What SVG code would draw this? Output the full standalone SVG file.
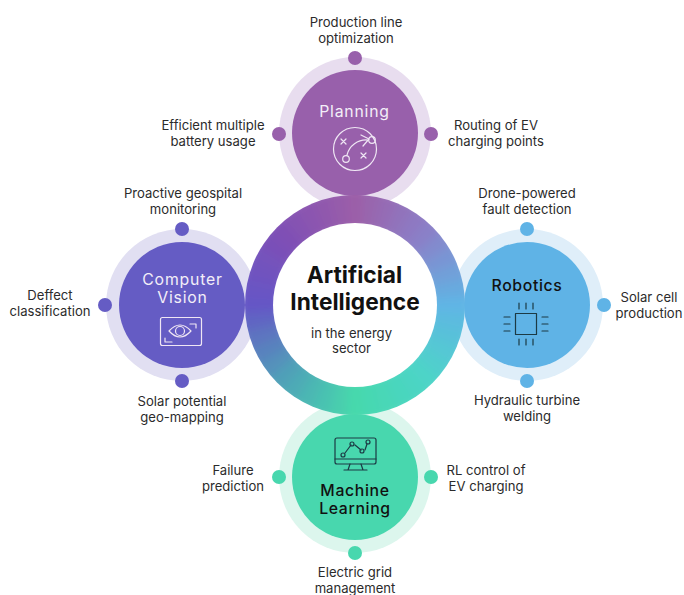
<svg xmlns="http://www.w3.org/2000/svg" width="684" height="595" viewBox="0 0 684 595">
<style>
text{font-family:Inter,"Noto Sans","Liberation Sans",sans-serif;text-anchor:middle}
.l{font-size:13.100px;fill:#2b2b2b}
.h{font-size:15.800px;font-weight:500;letter-spacing:.65px}
.w{fill:#f3eef8;font-weight:400;letter-spacing:.8px}.k{fill:#111}
.ic{fill:none;stroke-width:1.2;stroke-linecap:round;stroke-linejoin:round}
.iw{stroke:#efe6f4}.ik{stroke:#1c3a44}
.ring circle{r:96px;fill:none;stroke-width:44px;stroke-dasharray:15.8 600}
</style>
<defs>
<filter id="soft" x="-20%" y="-20%" width="140%" height="140%"><feGaussianBlur stdDeviation="5"/></filter>
<clipPath id="outer"><circle cx="355" cy="305" r="110"/></clipPath>
</defs>
<g id="planning">
<circle cx="355" cy="133" r="76" fill="#e8ddef"/><circle cx="355" cy="133" r="63" fill="#9860ab"/>
<circle cx="355" cy="58" r="7" fill="#9860ab"/><circle cx="279" cy="134" r="7" fill="#9860ab"/><circle cx="431" cy="134" r="7" fill="#9860ab"/>
<text class="h w" x="354.500" y="117">Planning</text>
<g class="ic iw"><circle cx="355" cy="149" r="21.5"/><circle cx="346" cy="159" r="3.3"/><circle cx="372" cy="140" r="3.3"/><path d="M347 155C349 146 358 139 368 140M361 135L369 139L363 146M341 139L346 144M346 139L341 144M361 153L366 158M366 153L361 158"/></g>
</g>
<g id="computer-vision">
<circle cx="182" cy="305" r="76" fill="#e1dff2"/><circle cx="182" cy="305" r="63" fill="#655cc4"/>
<circle cx="182" cy="229" r="7" fill="#655cc4"/><circle cx="105" cy="305" r="7" fill="#655cc4"/><circle cx="182" cy="381" r="7" fill="#655cc4"/>
<text class="h w" x="182.500" y="284.500">Computer</text><text class="h w" x="182.500" y="302.500">Vision</text>
<g class="ic iw"><rect x="160.500" y="317.500" width="41" height="28" rx="2"/><path d="M169 331Q180 319 191 331Q180 343 169 331Z"/><circle cx="180" cy="331" r="4.500"/><path d="M190 324H196V328M165 338V342H172"/></g>
</g>
<g id="robotics">
<circle cx="527" cy="305" r="76" fill="#dfeef9"/><circle cx="527" cy="305" r="63" fill="#5fb3e6"/>
<circle cx="527" cy="229" r="7" fill="#5fb3e6"/><circle cx="604" cy="305" r="7" fill="#5fb3e6"/><circle cx="527" cy="381" r="7" fill="#5fb3e6"/>
<text class="h k" x="527" y="291">Robotics</text>
<g class="ic ik"><rect x="515.500" y="313.500" width="21" height="21"/><path d="M519 303V309M526 303V309M533 303V309M519 339V345M526 339V345M533 339V345M504 317H510M504 324H510M504 331H510M542 317H548M542 324H548M542 331H548"/></g>
</g>
<g id="machine-learning">
<circle cx="355" cy="477" r="76" fill="#dcf6ed"/><circle cx="355" cy="477" r="63" fill="#48d7ae"/>
<circle cx="279" cy="477" r="7" fill="#48d7ae"/><circle cx="431" cy="477" r="7" fill="#48d7ae"/><circle cx="355" cy="553" r="7" fill="#48d7ae"/>
<text class="h k" x="355" y="496">Machine</text><text class="h k" x="355" y="514">Learning</text>
<g class="ic ik"><rect x="335" y="438" width="41" height="26" rx="2"/><path d="M335 459H376M350 464L348 470M361 464L363 470M344 470H367M345 453L351 445M355 445L361 450M365 450L367 444"/><circle cx="343" cy="455" r="2"/><circle cx="352" cy="444" r="2"/><circle cx="362" cy="451" r="2"/><circle cx="368" cy="442" r="2"/></g>
</g>
<g id="center">
<g clip-path="url(#outer)"><g filter="url(#soft)"><g class="ring" transform="translate(355 305)">
<circle stroke="#9c5fa8" transform="rotate(-94.5)"/><circle stroke="#9866ae" transform="rotate(-85.5)"/><circle stroke="#956cb5" transform="rotate(-76.5)"/><circle stroke="#9173bb" transform="rotate(-67.5)"/><circle stroke="#8e79c2" transform="rotate(-58.5)"/>
<circle stroke="#8a80c8" transform="rotate(-49.5)"/><circle stroke="#828bce" transform="rotate(-40.5)"/><circle stroke="#7995d4" transform="rotate(-31.5)"/><circle stroke="#71a0d9" transform="rotate(-22.5)"/><circle stroke="#68aadf" transform="rotate(-13.5)"/>
<circle stroke="#60b5e5" transform="rotate(-4.5)"/><circle stroke="#5cbbdf" transform="rotate(4.5)"/><circle stroke="#58c1d9" transform="rotate(13.5)"/><circle stroke="#55c8d4" transform="rotate(22.5)"/><circle stroke="#51cece" transform="rotate(31.5)"/>
<circle stroke="#4dd4c8" transform="rotate(40.5)"/><circle stroke="#4cd5c2" transform="rotate(49.5)"/><circle stroke="#4ad6bd" transform="rotate(58.5)"/><circle stroke="#49d7b7" transform="rotate(67.5)"/><circle stroke="#47d8b2" transform="rotate(76.5)"/>
<circle stroke="#46d9ac" transform="rotate(85.5)"/><circle stroke="#48ceae" transform="rotate(94.5)"/><circle stroke="#4ac2b1" transform="rotate(103.5)"/><circle stroke="#4cb7b3" transform="rotate(112.5)"/><circle stroke="#4eabb6" transform="rotate(121.5)"/>
<circle stroke="#50a0b8" transform="rotate(130.5)"/><circle stroke="#5491bb" transform="rotate(139.5)"/><circle stroke="#5882be" transform="rotate(148.5)"/><circle stroke="#5d74c0" transform="rotate(157.5)"/><circle stroke="#6165c3" transform="rotate(166.5)"/>
<circle stroke="#6556c6" transform="rotate(175.5)"/><circle stroke="#6a55c3" transform="rotate(184.5)"/><circle stroke="#6f53bf" transform="rotate(193.5)"/><circle stroke="#7552bc" transform="rotate(202.5)"/><circle stroke="#7a50b8" transform="rotate(211.5)"/>
<circle stroke="#7f4fb5" transform="rotate(220.5)"/><circle stroke="#8552b2" transform="rotate(229.5)"/><circle stroke="#8b55b0" transform="rotate(238.5)"/><circle stroke="#9059ad" transform="rotate(247.5)"/><circle stroke="#965cab" transform="rotate(256.5)"/>
</g></g></g>
<circle cx="355" cy="305" r="82" fill="#fff"/>
<text x="354.500" y="283" font-size="22.700" font-weight="700" fill="#111">Artificial</text>
<text x="355" y="310" font-size="22.700" font-weight="700" fill="#111">Intelligence</text>
<text class="l" x="351.500" y="338">in the energy</text><text class="l" x="351.500" y="353">sector</text>
</g>
<g id="labels">
<text class="l" x="356" y="27">Production line</text><text class="l" x="356" y="43">optimization</text>
<text class="l" x="213" y="130">Efficient multiple</text><text class="l" x="213" y="146">battery usage</text>
<text class="l" x="496" y="130">Routing of EV</text><text class="l" x="496" y="146">charging points</text>
<text class="l" x="183" y="198">Proactive geospital</text><text class="l" x="183" y="214">monitoring</text>
<text class="l" x="50" y="300">Deffect</text><text class="l" x="50" y="316">classification</text>
<text class="l" x="182" y="406">Solar potential</text><text class="l" x="182" y="422">geo-mapping</text>
<text class="l" x="527" y="198">Drone-powered</text><text class="l" x="527" y="214">fault detection</text>
<text class="l" x="649" y="302">Solar cell</text><text class="l" x="649" y="318">production</text>
<text class="l" x="527" y="405">Hydraulic turbine</text><text class="l" x="527" y="421">welding</text>
<text class="l" x="233" y="475">Failure</text><text class="l" x="233" y="491">prediction</text>
<text class="l" x="486" y="475">RL control of</text><text class="l" x="486" y="491">EV charging</text>
<text class="l" x="355" y="577">Electric grid</text><text class="l" x="355" y="593">management</text>
</g>
</svg>
